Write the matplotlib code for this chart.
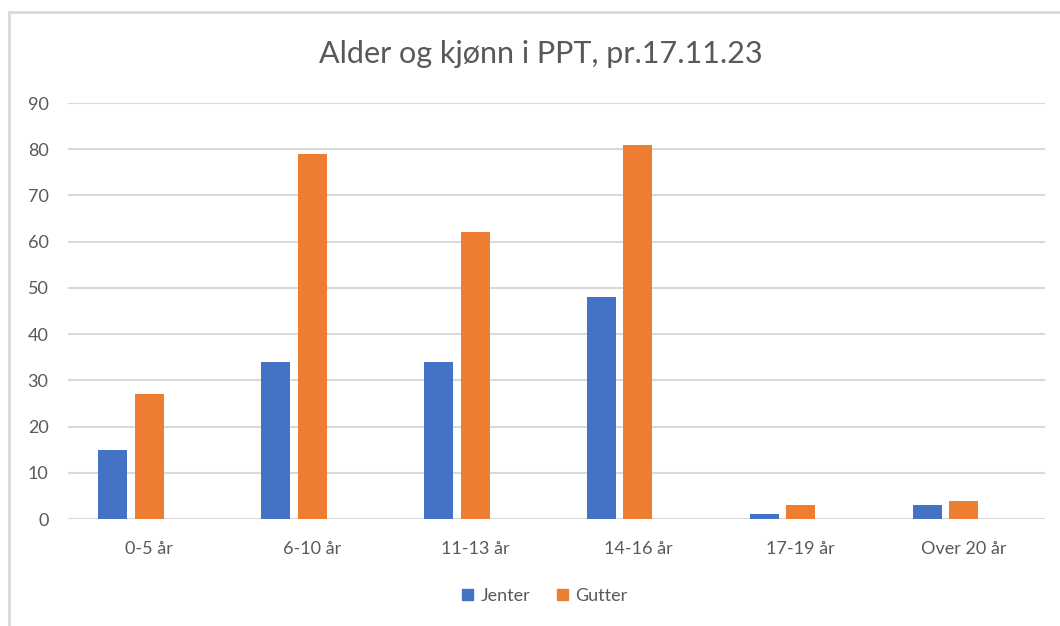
import numpy as np
import matplotlib.pyplot as plt
from matplotlib.lines import Line2D
from matplotlib.patches import Patch

plt.rcParams['font.family'] = ['Lato', 'DejaVu Sans']

categories = ["0-5 år", "6-10 år", "11-13 år", "14-16 år", "17-19 år", "Over 20 år"]
jenter = [15, 34, 34, 48, 1, 3]
gutter = [27, 79, 62, 81, 3, 4]
yticks = [0, 10, 20, 30, 40, 50, 60, 70, 80, 90]

blue = "#4472C4"
orange = "#ED7D31"
grid = "#D9D9D9"
txt = "#595959"

W, H = 1060, 626
fig = plt.figure(figsize=(W / 100, H / 100), dpi=100)
ax = fig.add_axes([68 / W, (H - 519) / H, (1045 - 68) / W, (519 - 103) / H])

x = np.arange(len(categories))
w = 0.178
ax.bar(x - 0.224, jenter, w, color=blue, label="Jenter", zorder=3)
ax.bar(x, gutter, w, color=orange, label="Gutter", zorder=3)

ax.set_xlim(-0.5, len(categories) - 0.5)
ax.set_ylim(0, 90)
ax.set_yticks(yticks)
ax.set_xticks(x)
ax.set_xticklabels(categories)
ax.tick_params(length=0, labelsize=13, colors=txt, pad=16)
ax.tick_params(axis='y', pad=14)
ax.grid(axis='y', color=grid, lw=1.5, zorder=0)
for s in ax.spines.values():
    s.set_visible(False)

fig.text(541 / W, 1 - 54 / H, "Alder og kjønn i PPT, pr.17.11.23",
         ha='center', va='center', fontsize=22, color=txt)

handles = [Patch(color=blue), Patch(color=orange)]
fig.legend(handles, ["Jenter", "Gutter"], loc='center', bbox_to_anchor=(545 / W, 1 - 596 / H),
           ncol=2, frameon=False, fontsize=13, labelcolor=txt, handlelength=0.6,
           handleheight=0.6, handletextpad=0.4, columnspacing=1.5)

# chart frame (top and left edges visible in the screenshot)
fig.add_artist(Line2D([9 / W, 1], [1 - 12 / H] * 2, color=grid, lw=2))
fig.add_artist(Line2D([9 / W] * 2, [0, 1 - 12 / H], color=grid, lw=2))

fig.savefig("out.png", dpi=100, facecolor='white')
